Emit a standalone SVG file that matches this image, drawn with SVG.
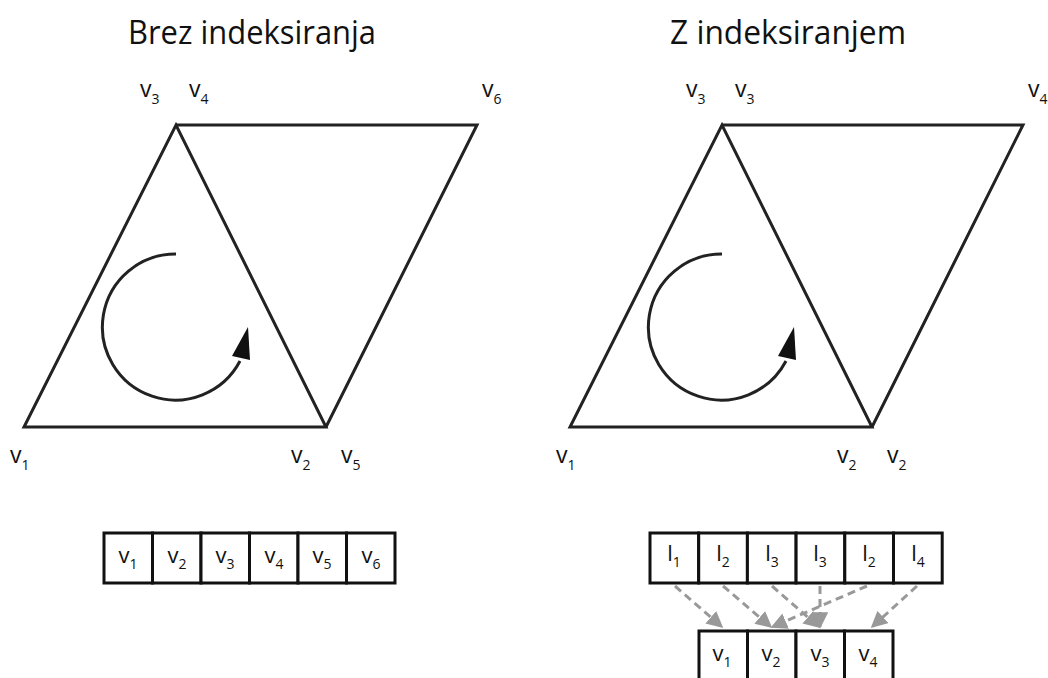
<svg xmlns="http://www.w3.org/2000/svg" width="1048" height="678" viewBox="0 0 1048 678">
<defs>
<style>
.t{font-family:"Open Sans","Noto Sans","Liberation Sans",sans-serif;fill:#111}
.title{font-size:32px;text-anchor:middle}
.lbl{font-size:23px}
.cell{font-size:22px;text-anchor:middle}
.s{font-size:14px}
.edge{fill:none;stroke:#222;stroke-width:3;stroke-linejoin:miter}
.box{fill:#fff;stroke:#111;stroke-width:3}
.arc{fill:none;stroke:#222;stroke-width:3}
.dash{fill:none;stroke:#999;stroke-width:3;stroke-dasharray:8 5}
</style>
<marker id="ga" viewBox="0 0 10 10" refX="9" refY="5" markerWidth="5.5" markerHeight="5.5" orient="auto" markerUnits="strokeWidth">
<path d="M0,0 L10,5 L0,10 z" fill="#999"/>
</marker>
</defs>
<rect width="1048" height="678" fill="#fff"/>

<text class="t title" x="252" y="44" textLength="248" lengthAdjust="spacingAndGlyphs">Brez indeksiranja</text>
<text class="t title" x="788" y="44" textLength="236" lengthAdjust="spacingAndGlyphs">Z indeksiranjem</text>

<g id="left-mesh">
<path class="edge" d="M24,427 L326,427 L176,125 Z"/>
<path class="edge" d="M176,125 L477,125 L326,427"/>
<path class="arc" d="M176,254 A73,73 0 1,0 240,361"/>
<polygon points="248,327 232,356 250,360" fill="#111"/>
</g>
<g id="left-labels">
<text class="t lbl" x="140" y="97">v<tspan class="s" dy="7">3</tspan></text>
<text class="t lbl" x="189" y="97">v<tspan class="s" dy="7">4</tspan></text>
<text class="t lbl" x="482" y="97">v<tspan class="s" dy="7">6</tspan></text>
<text class="t lbl" x="10" y="463">v<tspan class="s" dy="7">1</tspan></text>
<text class="t lbl" x="291" y="463">v<tspan class="s" dy="7">2</tspan></text>
<text class="t lbl" x="341" y="463">v<tspan class="s" dy="7">5</tspan></text>
</g>

<g id="right-mesh">
<path class="edge" d="M570,427 L872,427 L722,125 Z"/>
<path class="edge" d="M722,125 L1023,125 L872,427"/>
<path class="arc" d="M722,254 A73,73 0 1,0 786,361"/>
<polygon points="794,327 778,356 796,360" fill="#111"/>
</g>
<g id="right-labels">
<text class="t lbl" x="686" y="97">v<tspan class="s" dy="7">3</tspan></text>
<text class="t lbl" x="735" y="97">v<tspan class="s" dy="7">3</tspan></text>
<text class="t lbl" x="1028" y="97">v<tspan class="s" dy="7">4</tspan></text>
<text class="t lbl" x="556" y="463">v<tspan class="s" dy="7">1</tspan></text>
<text class="t lbl" x="837" y="463">v<tspan class="s" dy="7">2</tspan></text>
<text class="t lbl" x="887" y="463">v<tspan class="s" dy="7">2</tspan></text>
</g>

<g id="vertex-array-left">
<rect class="box" x="104" y="533" width="48.5" height="50"/>
<rect class="box" x="152.5" y="533" width="48.5" height="50"/>
<rect class="box" x="201" y="533" width="48.5" height="50"/>
<rect class="box" x="249.5" y="533" width="48.5" height="50"/>
<rect class="box" x="298" y="533" width="48.5" height="50"/>
<rect class="box" x="346.5" y="533" width="48.5" height="50"/>
<text class="t cell" x="128" y="563">v<tspan class="s" dy="6">1</tspan></text>
<text class="t cell" x="177" y="563">v<tspan class="s" dy="6">2</tspan></text>
<text class="t cell" x="225" y="563">v<tspan class="s" dy="6">3</tspan></text>
<text class="t cell" x="274" y="563">v<tspan class="s" dy="6">4</tspan></text>
<text class="t cell" x="322" y="563">v<tspan class="s" dy="6">5</tspan></text>
<text class="t cell" x="371" y="563">v<tspan class="s" dy="6">6</tspan></text>
</g>

<g id="index-array">
<rect class="box" x="650" y="533" width="48.7" height="50"/>
<rect class="box" x="698.7" y="533" width="48.7" height="50"/>
<rect class="box" x="747.4" y="533" width="48.7" height="50"/>
<rect class="box" x="796.1" y="533" width="48.7" height="50"/>
<rect class="box" x="844.8" y="533" width="48.7" height="50"/>
<rect class="box" x="893.5" y="533" width="48.7" height="50"/>
<text class="t cell" x="674" y="561">l<tspan class="s" dy="6">1</tspan></text>
<text class="t cell" x="723" y="561">l<tspan class="s" dy="6">2</tspan></text>
<text class="t cell" x="772" y="561">l<tspan class="s" dy="6">3</tspan></text>
<text class="t cell" x="820" y="561">l<tspan class="s" dy="6">3</tspan></text>
<text class="t cell" x="869" y="561">l<tspan class="s" dy="6">2</tspan></text>
<text class="t cell" x="918" y="561">l<tspan class="s" dy="6">4</tspan></text>
</g>

<g id="vertex-array-right">
<rect class="box" x="699" y="631" width="48.5" height="52"/>
<rect class="box" x="747.5" y="631" width="48.5" height="52"/>
<rect class="box" x="796" y="631" width="48.5" height="52"/>
<rect class="box" x="844.5" y="631" width="48.5" height="52"/>
<text class="t cell" x="722" y="661">v<tspan class="s" dy="6">1</tspan></text>
<text class="t cell" x="771" y="661">v<tspan class="s" dy="6">2</tspan></text>
<text class="t cell" x="820" y="661">v<tspan class="s" dy="6">3</tspan></text>
<text class="t cell" x="868" y="661">v<tspan class="s" dy="6">4</tspan></text>
</g>

<g id="connectors">
<line class="dash" x1="675" y1="586" x2="722" y2="627" marker-end="url(#ga)"/>
<line class="dash" x1="723" y1="586" x2="771" y2="627" marker-end="url(#ga)"/>
<line class="dash" x1="772" y1="586" x2="819" y2="627" marker-end="url(#ga)"/>
<line class="dash" x1="820" y1="586" x2="820" y2="627" marker-end="url(#ga)"/>
<line class="dash" x1="867" y1="586" x2="772" y2="627" marker-end="url(#ga)"/>
<line class="dash" x1="917" y1="586" x2="872" y2="627" marker-end="url(#ga)"/>
</g>
</svg>
